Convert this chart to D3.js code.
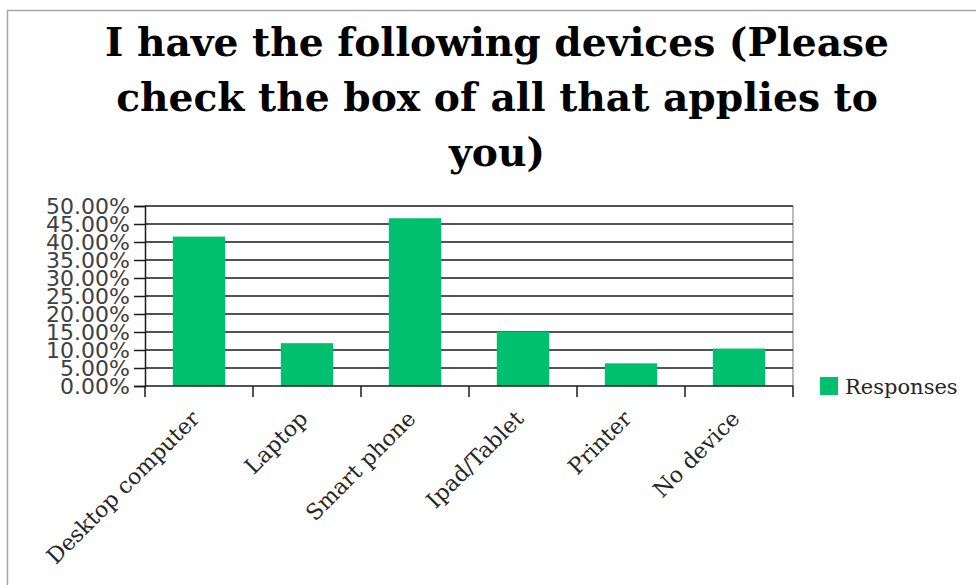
<!DOCTYPE html>
<html>
<head>
<meta charset="utf-8">
<script src="https://cdn.jsdelivr.net/npm/d3@7"></script>
<style>
  html, body { margin: 0; padding: 0; background: #fff; }
  svg { display: block; }
</style>
</head>
<body>
<svg id="chart" width="976" height="585"></svg>
<script>
// Survey answers: share of respondents owning each device
const categories = ["Desktop computer", "Laptop", "Smart phone", "Ipad/Tablet", "Printer", "No device"];
const responses = [41.5, 11.9, 46.6, 15.1, 6.3, 10.4];
const yTicks = [0, 5, 10, 15, 20, 25, 30, 35, 40, 45, 50];
const titleLines = ["I have the following devices (Please", "check the box of all that applies to", "you)"];
const seriesName = "Responses";

const svg = d3.select("#chart");
const green = "#00BF6F";
const serif = "'DejaVu Serif', 'Liberation Serif', serif";

// outer chart frame (runs off the right and bottom edges)
svg.append("rect")
  .attr("x", 7.5).attr("y", 10.5)
  .attr("width", 1000).attr("height", 600)
  .attr("fill", "#fff").attr("stroke", "#a6a6a6").attr("stroke-width", 1.5);

const plot = { left: 145, right: 793, top: 206, bottom: 386 };

const x = d3.scaleBand().domain(categories).range([plot.left, plot.right]).paddingInner(0.515).paddingOuter(0.2575);
const xOuter = d3.scaleBand().domain(categories).range([plot.left, plot.right]);
const y = d3.scaleLinear().domain([0, 50]).range([plot.bottom, plot.top]);

// title
svg.append("g").selectAll("text").data(titleLines).join("text")
  .attr("x", 497).attr("y", (d, i) => 56 + i * 55)
  .attr("text-anchor", "middle")
  .attr("font-family", serif).attr("font-weight", "bold")
  .attr("font-size", 39.2).attr("fill", "#000")
  .text(d => d);

// right border of plot area
svg.append("line")
  .attr("x1", plot.right).attr("x2", plot.right)
  .attr("y1", plot.top).attr("y2", plot.bottom)
  .attr("stroke", "#a6a6a6").attr("stroke-width", 1.5);

// horizontal gridlines
svg.append("g").selectAll("line").data(yTicks.filter(t => t > 0)).join("line")
  .attr("x1", plot.left).attr("x2", plot.right)
  .attr("y1", d => y(d)).attr("y2", d => y(d))
  .attr("stroke", "#1a1a1a").attr("stroke-width", 1.5);

// bars
svg.append("g").selectAll("rect").data(responses).join("rect")
  .attr("x", (d, i) => x(categories[i]))
  .attr("width", x.bandwidth())
  .attr("y", d => y(d))
  .attr("height", d => y(0) - y(d))
  .attr("fill", green);

// y axis
const yAxis = d3.axisLeft(y).tickValues(yTicks).tickSize(11).tickPadding(4)
  .tickFormat(d => d.toFixed(2) + "%");
const gy = svg.append("g").attr("transform", `translate(${plot.left},0)`).call(yAxis);
gy.select(".domain").attr("stroke", "#1a1a1a").attr("stroke-width", 1.5);
gy.selectAll(".tick line").attr("stroke", "#1a1a1a").attr("stroke-width", 1.5);
gy.selectAll(".tick text")
  .attr("font-family", "'DejaVu Sans', Verdana, sans-serif")
  .attr("font-size", 22).attr("fill", "#404040").attr("dy", "0.36em");

// x axis: ticks at category boundaries
const boundaries = categories.map(c => xOuter(c)).concat([plot.right]);
const gx = svg.append("g");
gx.append("line")
  .attr("x1", plot.left).attr("x2", plot.right)
  .attr("y1", plot.bottom).attr("y2", plot.bottom)
  .attr("stroke", "#1a1a1a").attr("stroke-width", 1.5);
gx.selectAll("line.tk").data(boundaries).join("line").attr("class", "tk")
  .attr("x1", d => d).attr("x2", d => d)
  .attr("y1", plot.bottom).attr("y2", plot.bottom + 11)
  .attr("stroke", "#1a1a1a").attr("stroke-width", 1.5);
gx.selectAll("text").data(categories).join("text")
  .attr("transform", d => `translate(${xOuter(d) + xOuter.bandwidth() / 2 + 2},${plot.bottom + 34}) rotate(-45)`)
  .attr("text-anchor", "end")
  .attr("font-family", serif).attr("font-size", 22).attr("fill", "#262626")
  .text(d => d);

// legend
const lg = svg.append("g").attr("transform", "translate(820,377)");
lg.append("rect").attr("width", 18).attr("height", 18).attr("fill", green);
lg.append("text").attr("x", 25).attr("y", 17)
  .attr("font-family", serif).attr("font-size", 21).attr("fill", "#262626")
  .text(seriesName);
</script>
</body>
</html>
